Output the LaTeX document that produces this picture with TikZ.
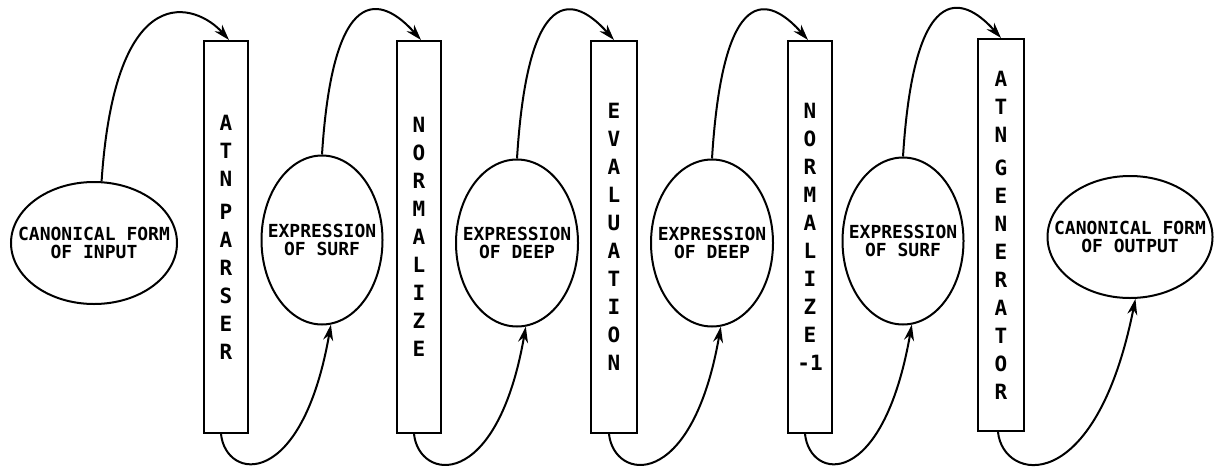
\documentclass[tikz,border=0pt]{standalone}
\usepackage{fontspec}
\setmonofont{DejaVu Sans Mono}
\usetikzlibrary{shapes.geometric,arrows.meta}
\begin{document}
\begin{tikzpicture}[x=1pt,y=-1pt,
  line width=2pt,
  proc/.style={draw, rectangle, minimum width=44pt, minimum height=392pt, inner sep=0pt, align=center, font=\ttfamily\bfseries\fontsize{21}{28}\selectfont},
  ell/.style={draw, ellipse, inner sep=0pt},
  lbl/.style={align=center, font=\ttfamily\bfseries\fontsize{18}{18}\selectfont},
  arr/.style={-{Stealth[length=16pt,width=10pt]}}
]
\fill[white] (0,0) rectangle (1214,466);
\useasboundingbox (0,0) rectangle (1214,466);

% ellipses
\node[ell, minimum width=166pt, minimum height=122pt, label={[lbl]center:CANONICAL FORM\\OF INPUT}] (e0) at (94,243) {};
\node[ell, minimum width=121pt, minimum height=169pt, label={[lbl]center:EXPRESSION\\OF SURF}] (e1) at (322,240) {};
\node[ell, minimum width=122pt, minimum height=167pt, label={[lbl]center:EXPRESSION\\OF DEEP}] (e2) at (517,243) {};
\node[ell, minimum width=122pt, minimum height=167pt, label={[lbl]center:EXPRESSION\\OF DEEP}] (e3) at (712,243) {};
\node[ell, minimum width=121pt, minimum height=167pt, label={[lbl]center:EXPRESSION\\OF SURF}] (e4) at (903,241) {};
\node[ell, minimum width=165pt, minimum height=122pt, label={[lbl]center:CANONICAL FORM\\OF OUTPUT}] (e5) at (1130,237) {};

% processes
\node[proc] (r1) at (226,237) {A\\T\\N\\[5pt]P\\A\\R\\S\\E\\R};
\node[proc] (r2) at (419,237) {N\\O\\R\\M\\A\\L\\I\\Z\\E};
\node[proc, minimum width=46pt] (r3) at (614,237) {E\\V\\A\\L\\U\\A\\T\\I\\O\\N};
\node[proc] (r4) at (810,237) {N\\O\\R\\M\\A\\L\\I\\Z\\E\\-1};
\node[proc, minimum width=46pt] (r5) at (1001,235) {A\\T\\N\\[5pt]G\\E\\N\\E\\R\\A\\T\\O\\R};

% top arcs
\draw[arr] (e0.83) .. controls +(14,-208) and +(-32,-36) .. ([xshift=3pt]r1.north);
\draw[arr] (e1.north) .. controls +(12,-188) and +(-32,-36) .. ([xshift=2pt]r2.north);
\draw[arr] (e2.north) .. controls +(12,-192) and +(-32,-36) .. (r3.north);
\draw[arr] (e3.north) .. controls +(12,-192) and +(-32,-36) .. ([xshift=-2pt]r4.north);
\draw[arr] (e4.north) .. controls +(12,-190) and +(-32,-36) .. (r5.north);

% bottom arcs
\draw[arr] ([xshift=-5pt]r1.south) .. controls +(5,47) and +(-29,166) .. (e1.-84);
\draw[arr] ([xshift=-5pt]r2.south) .. controls +(5,47) and +(-29,166) .. (e2.-84);
\draw[arr] ([xshift=-5pt]r3.south) .. controls +(5,47) and +(-29,166) .. (e3.-84);
\draw[arr] ([xshift=-5pt]r4.south) .. controls +(5,47) and +(-29,166) .. (e4.-84);
\draw[arr] ([xshift=-3pt]r5.south) .. controls +(5,50) and +(-40,200) .. (e5.-85);
\end{tikzpicture}
\end{document}
